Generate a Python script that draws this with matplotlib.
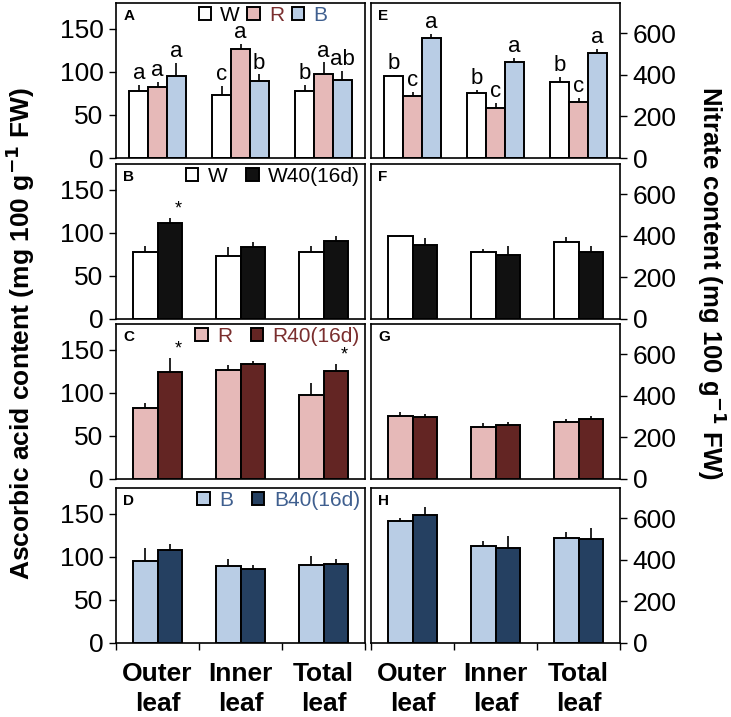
import numpy as np
import matplotlib.pyplot as plt

plt.rcParams['font.family'] = ['Liberation Sans', 'DejaVu Sans']

# categories
leaf = ["Outer\nleaf", "Inner\nleaf", "Total\nleaf"]

# ascorbic acid (mg 100 g-1 FW) -- left column
asa_W = [78, 73, 78]
asa_W_err = [7, 11, 7]
asa_R = [83, 127, 97]
asa_R_err = [5, 5, 14]
asa_B = [95, 90, 91]
asa_B_err = [15, 7, 10]
asa_letters = [["a", "a", "a"], ["c", "a", "b"], ["b", "a", "ab"]]

asa_W40 = [112, 84, 91]
asa_W40_err = [5, 5, 5]
asa_R40 = [124, 133, 126]
asa_R40_err = [16, 4, 7]
asa_B40 = [108, 86, 92]
asa_B40_err = [7, 5, 6]
asa_stars_W = [True, False, False]
asa_stars_R = [True, False, True]

# nitrate (mg 100 g-1 FW) -- right column
no3_W = [392, 313, 363]
no3_W_err = [6, 15, 27]
no3_R = [297, 241, 268]
no3_R_err = [22, 22, 18]
no3_B = [578, 461, 503]
no3_B_err = [18, 21, 23]
no3_letters = [["b", "c", "a"], ["b", "c", "a"], ["b", "c", "a"]]

no3_W_f = [400, 320, 369]
no3_W_f_err = [6, 15, 27]
no3_W40 = [357, 309, 322]
no3_W40_err = [34, 41, 29]
no3_R_g = [301, 248, 272]
no3_R_g_err = [21, 21, 16]
no3_R40 = [298, 259, 290]
no3_R40_err = [13, 15, 13]
no3_B_h = [584, 467, 507]
no3_B_h_err = [19, 24, 27]
no3_B40 = [617, 456, 502]
no3_B40_err = [39, 56, 50]

c_W, c_R, c_B = "white", "#E6B9B8", "#B9CDE5"
c_W40, c_R40, c_B40 = "#111111", "#632523", "#254061"
t_R, t_B = "#7A2E2E", "#3F5F8F"

fig = plt.figure(figsize=(7.31, 7.17), dpi=100)
lefts = [116 / 731, 371 / 731]
w = 249 / 731
bots = [158, 319, 479, 643]
h = 155 / 717
x = np.arange(3)


def style(ax, right, last):
    ax.set_xlim(-0.5, 2.5)
    if right:
        ax.set_ylim(0, 745)
        ax.set_yticks([0, 200, 400, 600])
        ax.yaxis.tick_right()
    else:
        ax.set_ylim(0, 180)
        ax.set_yticks([0, 50, 100, 150])
    ax.tick_params(axis='y', direction='out', length=5, width=1, labelsize=19, pad=4)
    if last:
        ax.set_xticks([-0.5, 0.5, 1.5, 2.5])
        ax.set_xticklabels([])
        ax.set_xticks(x, minor=True)
        ax.set_xticklabels(leaf, minor=True, fontsize=19, fontweight='bold', linespacing=1.3)
        ax.tick_params(axis='x', which='major', direction='out', length=5, width=1)
        ax.tick_params(axis='x', which='minor', length=0, pad=14)
    else:
        ax.set_xticks([])
    for s in ax.spines.values():
        s.set_linewidth(1.2)


def bars(ax, vals, errs, colors, width):
    n = len(vals)
    out = []
    for i in range(n):
        pos = x + (i - (n - 1) / 2) * width
        b = ax.bar(pos, vals[i], width, color=colors[i], edgecolor='black', linewidth=1.4, zorder=2)
        ax.errorbar(pos, vals[i], yerr=[np.zeros(3), errs[i]], fmt='none', ecolor='black',
                    elinewidth=1.2, capsize=0, zorder=1)
        out.append((pos, b))
    return out


def legend(ax, handles, labels, tcolors, x1, spacing):
    lg = ax.legend(handles, labels, loc='upper right', bbox_to_anchor=(x1, 1.06), ncol=len(labels),
                   frameon=False, fontsize=15, handlelength=0.6, handleheight=0.6,
                   handletextpad=0.45, columnspacing=spacing, borderaxespad=0.2)
    for t, c in zip(lg.get_texts(), tcolors):
        t.set_color(c)


def panel_letter(ax, s):
    ax.text(0.03, 0.96, s, transform=ax.transAxes, fontsize=11, fontweight='bold', va='top')


axs = []
for r in range(4):
    row = []
    for c in range(2):
        ax = fig.add_axes([lefts[c], 1 - bots[r] / 717, w, h])
        style(ax, c == 1, r == 3)
        row.append(ax)
    axs.append(row)

bw3 = 0.225
bw2 = 0.29

# A
ax = axs[0][0]
res = bars(ax, [asa_W, asa_R, asa_B], [asa_W_err, asa_R_err, asa_B_err], [c_W, c_R, c_B], bw3)
vals = [asa_W, asa_R, asa_B]
errs = [asa_W_err, asa_R_err, asa_B_err]
for i, (pos, b) in enumerate(res):
    for j in range(3):
        ax.text(pos[j], vals[i][j] + errs[i][j] + 1, asa_letters[j][i], ha='center', va='bottom', fontsize=16)
panel_letter(ax, "A")
legend(ax, [res[0][1], res[1][1], res[2][1]], ["W", "R", "B"], ["black", t_R, t_B], 0.9, 0.35)

# E
ax = axs[0][1]
res = bars(ax, [no3_W, no3_R, no3_B], [no3_W_err, no3_R_err, no3_B_err], [c_W, c_R, c_B], bw3)
vals = [no3_W, no3_R, no3_B]
errs = [no3_W_err, no3_R_err, no3_B_err]
for i, (pos, b) in enumerate(res):
    for j in range(3):
        ax.text(pos[j], vals[i][j] + errs[i][j] + 5, no3_letters[j][i], ha='center', va='bottom', fontsize=16)
panel_letter(ax, "E")

# B, C, D
pairs = [
    (asa_W, asa_W_err, asa_W40, asa_W40_err, c_W, c_W40, "B", ["W", "W40(16d)"], ["black", "black"], asa_stars_W),
    (asa_R, asa_R_err, asa_R40, asa_R40_err, c_R, c_R40, "C", ["R", "R40(16d)"], [t_R, t_R], asa_stars_R),
    (asa_B, asa_B_err, asa_B40, asa_B40_err, c_B, c_B40, "D", ["B", "B40(16d)"], [t_B, t_B], [False] * 3),
]
for r, (v1, e1, v2, e2, col1, col2, lab, labs, tcol, stars) in enumerate(pairs, start=1):
    ax = axs[r][0]
    res = bars(ax, [v1, v2], [e1, e2], [col1, col2], bw2)
    for j in range(3):
        if stars[j]:
            ax.text(res[1][0][j] + 0.1, v2[j] + e2[j] + 1, "*", ha='center', va='bottom', fontsize=13)
    panel_letter(ax, lab)
    legend(ax, [res[0][1], res[1][1]], labs, tcol, 1.03, 0.9)

# F, G, H
npairs = [
    (no3_W_f, no3_W_f_err, no3_W40, no3_W40_err, c_W, c_W40, "F"),
    (no3_R_g, no3_R_g_err, no3_R40, no3_R40_err, c_R, c_R40, "G"),
    (no3_B_h, no3_B_h_err, no3_B40, no3_B40_err, c_B, c_B40, "H"),
]
for r, (v1, e1, v2, e2, col1, col2, lab) in enumerate(npairs, start=1):
    ax = axs[r][1]
    bars(ax, [v1, v2], [e1, e2], [col1, col2], bw2)
    panel_letter(ax, lab)

fig.text(0.028, 0.535, "Ascorbic acid content (mg 100 g$^{\\mathbf{-1}}$ FW)", rotation=90,
         ha='center', va='center', fontsize=19, fontweight='bold')
fig.text(0.973, 0.605, "Nitrate content (mg 100 g$^{\\mathbf{-1}}$ FW)", rotation=270,
         ha='center', va='center', fontsize=18.5, fontweight='bold')

fig.savefig("out.png", dpi=100)
